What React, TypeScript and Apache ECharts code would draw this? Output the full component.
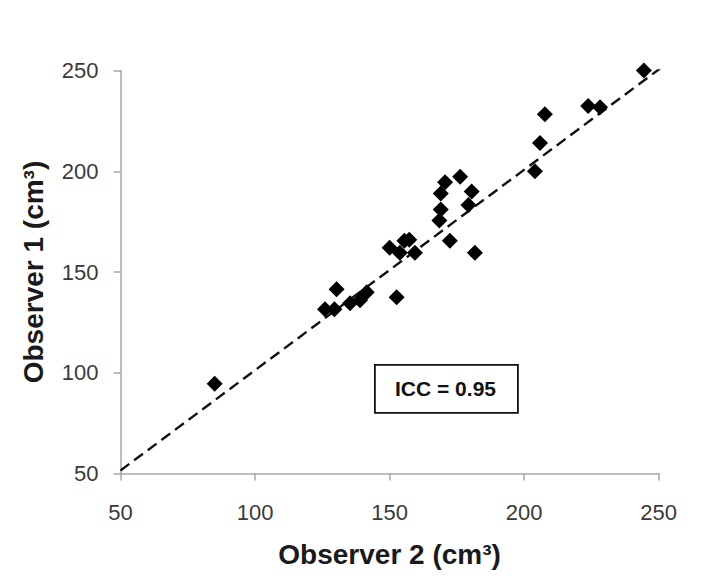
import React, { useEffect, useRef } from "react";
import * as echarts from "echarts";

const observer2: number[] = [85, 126, 129.5, 130.3, 135.3, 139, 141.5, 152.6, 150, 153.8, 155.5, 157.3, 159.4, 172.4, 181.7, 168.5, 169, 169, 170.6, 176.2, 180.5, 179.3, 204, 205.9, 207.7, 223.8, 228.2, 244.5];
const observer1: number[] = [94.5, 131.5, 131.5, 141.5, 134.5, 136, 140, 137.5, 162, 159.5, 165.5, 166, 159.5, 165.5, 159.5, 175.5, 181, 189, 194.5, 197.3, 190, 183.2, 200, 214, 228.3, 232.4, 231.7, 250];
const trendX: number[] = [50, 250.5];
const trendY: number[] = [51.5, 251];
const xTicks: number[] = [50, 100, 150, 200, 250];
const yTicks: number[] = [50, 100, 150, 200, 250];
const iccLabel = "ICC = 0.95";
const xTitle = "Observer 2 (cm\u00B3)";
const yTitle = "Observer 1 (cm\u00B3)";

const FONT = "'Liberation Sans', Arial, Helvetica, sans-serif";

export default function App() {
  const ref = useRef<HTMLDivElement>(null);
  useEffect(() => {
    if (!ref.current) return;
    const chart = echarts.init(ref.current, undefined, { renderer: "svg" });
    const points = observer2.map((x, i) => [x, observer1[i]]);
    const trend = trendX.map((x, i) => [x, trendY[i]]);
    const axisCommon = {
      min: xTicks[0],
      max: xTicks[xTicks.length - 1],
      interval: 50,
      splitLine: { show: false },
      axisLine: { show: true, onZero: false, lineStyle: { color: "#a6a6a6", width: 1.5 } },
      axisTick: { show: true, inside: false, length: 7, lineStyle: { color: "#a6a6a6", width: 1.5 } },
      nameLocation: "middle" as const,
      nameTextStyle: { fontFamily: FONT, fontSize: 28, fontWeight: "bold" as const, color: "#1a1a1a" },
    };
    chart.setOption({
      animation: false,
      backgroundColor: "#ffffff",
      grid: { left: 120.5, right: 45.3, top: 70.5, bottom: 110.5, containLabel: false },
      xAxis: {
        ...axisCommon,
        type: "value",
        name: xTitle,
        nameGap: 67,
        axisLabel: { fontFamily: FONT, fontSize: 22, color: "#3a3a3a", margin: 28 },
      },
      yAxis: {
        ...axisCommon,
        min: yTicks[0],
        max: yTicks[yTicks.length - 1],
        type: "value",
        name: yTitle,
        nameGap: 73,
        nameRotate: 90,
        axisLabel: { fontFamily: FONT, fontSize: 22, color: "#3a3a3a", margin: 22 },
      },
      series: [
        {
          type: "line",
          data: trend,
          symbol: "none",
          silent: true,
          lineStyle: { color: "#111", width: 2.4, type: [11, 6] },
          z: 1,
        },
        {
          type: "scatter",
          data: points,
          symbol: "diamond",
          symbolSize: 16,
          itemStyle: { color: "#000", opacity: 1 },
          z: 3,
        },
      ],
      graphic: [
        {
          type: "rect",
          left: 374,
          top: 364,
          shape: { width: 143, height: 48 },
          style: { fill: "#fff", stroke: "#111", lineWidth: 1.8 },
          z: 10,
        },
        {
          type: "text",
          x: 445.5,
          y: 388,
          style: {
            text: iccLabel,
            fontFamily: FONT,
            fontSize: 21,
            fontWeight: "bold",
            fill: "#111",
            align: "center",
            verticalAlign: "middle",
          },
          z: 11,
        },
      ],
    });
    return () => chart.dispose();
  }, []);
  return (
    <div
      ref={ref}
      style={{ position: "fixed", left: 0, top: 0, width: 704, height: 584, background: "#fff" }}
    />
  );
}
